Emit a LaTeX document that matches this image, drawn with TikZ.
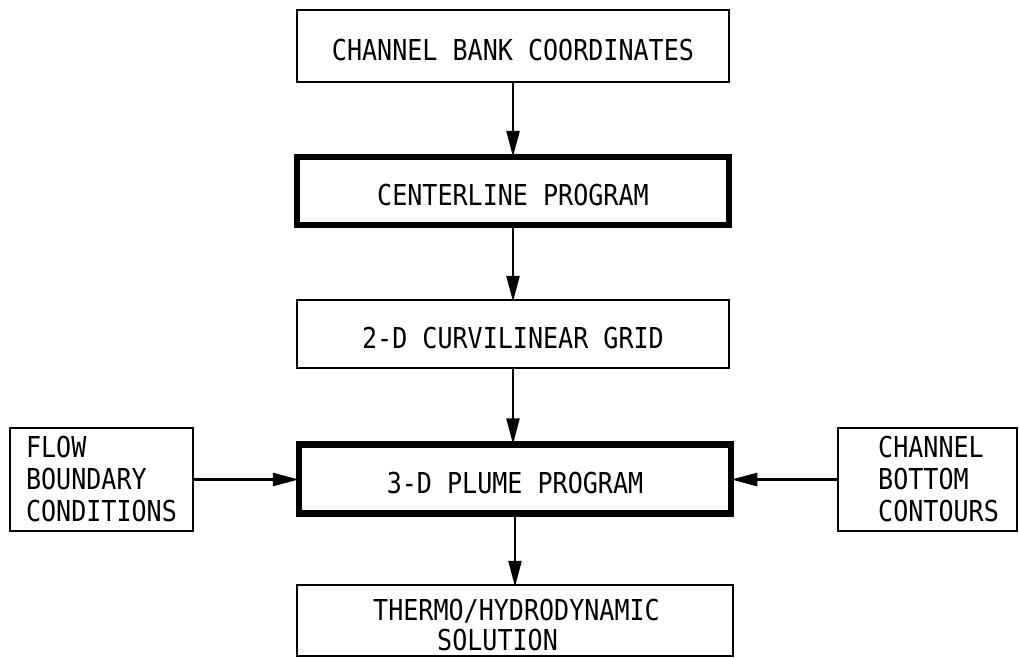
\documentclass[tikz,border=0pt]{standalone}
\usepackage{fontspec}
\newfontfamily\lett[FakeStretch=0.87]{DejaVu Sans Mono}
\usetikzlibrary{arrows.meta}
\begin{document}
\begin{tikzpicture}[x=1pt,y=-1pt,
  txt/.style={font=\lett\fontsize{28.8}{32}\selectfont,inner sep=0pt},
  box/.style={txt,draw,line width=2.5pt,rectangle},
  thickbox/.style={box,line width=6.5pt},
  one/.style={text height=29pt,text depth=0pt},
  arr/.style={line width=2.5pt,shorten >=-3pt,-{Triangle[length=26pt,width=13pt]}}]
\useasboundingbox (0,0) rectangle (1019,657);
\node[box,one,minimum width=432pt,minimum height=72pt] (b1) at (513,46) {CHANNEL BANK COORDINATES};
\node[thickbox,one,minimum width=432pt,minimum height=68pt] (b2) at (513,191) {CENTERLINE PROGRAM};
\node[box,one,minimum width=432pt,minimum height=68pt] (b3) at (513,334) {2-D CURVILINEAR GRID};
\node[thickbox,one,minimum width=432pt,minimum height=69pt] (b4) at (515,479) {3-D PLUME PROGRAM};
\node[box,align=left,minimum width=183pt,minimum height=103pt] (flow) at (101.5,479.5) {FLOW\\BOUNDARY\\CONDITIONS};
\node[box,align=left,minimum width=179pt,minimum height=103pt] (chan) at (927.5,479.5) {\hspace*{22pt}CHANNEL\\\hspace*{22pt}BOTTOM\\\hspace*{22pt}CONTOURS};
\node[box,minimum width=436pt,minimum height=71pt] (th) at (515,620.5) {};
\node[txt,align=left,font=\lett\fontsize{28.8}{30}\selectfont] (thtext) at (516.5,625.5) {THERMO/HYDRODYNAMIC\\\hspace*{64pt}SOLUTION};
\draw[arr] (b1.south) -- (b1.south |- b2.north);
\draw[arr] (b2.south) -- (b2.south |- b3.north);
\draw[arr] (b3.south) -- (b3.south |- b4.north);
\draw[arr] (b4.south) -- (b4.south |- th.north);
\draw[arr] (flow.east) -- (flow.east -| b4.west);
\draw[arr] (chan.west) -- (chan.west -| b4.east);
\end{tikzpicture}
\end{document}
